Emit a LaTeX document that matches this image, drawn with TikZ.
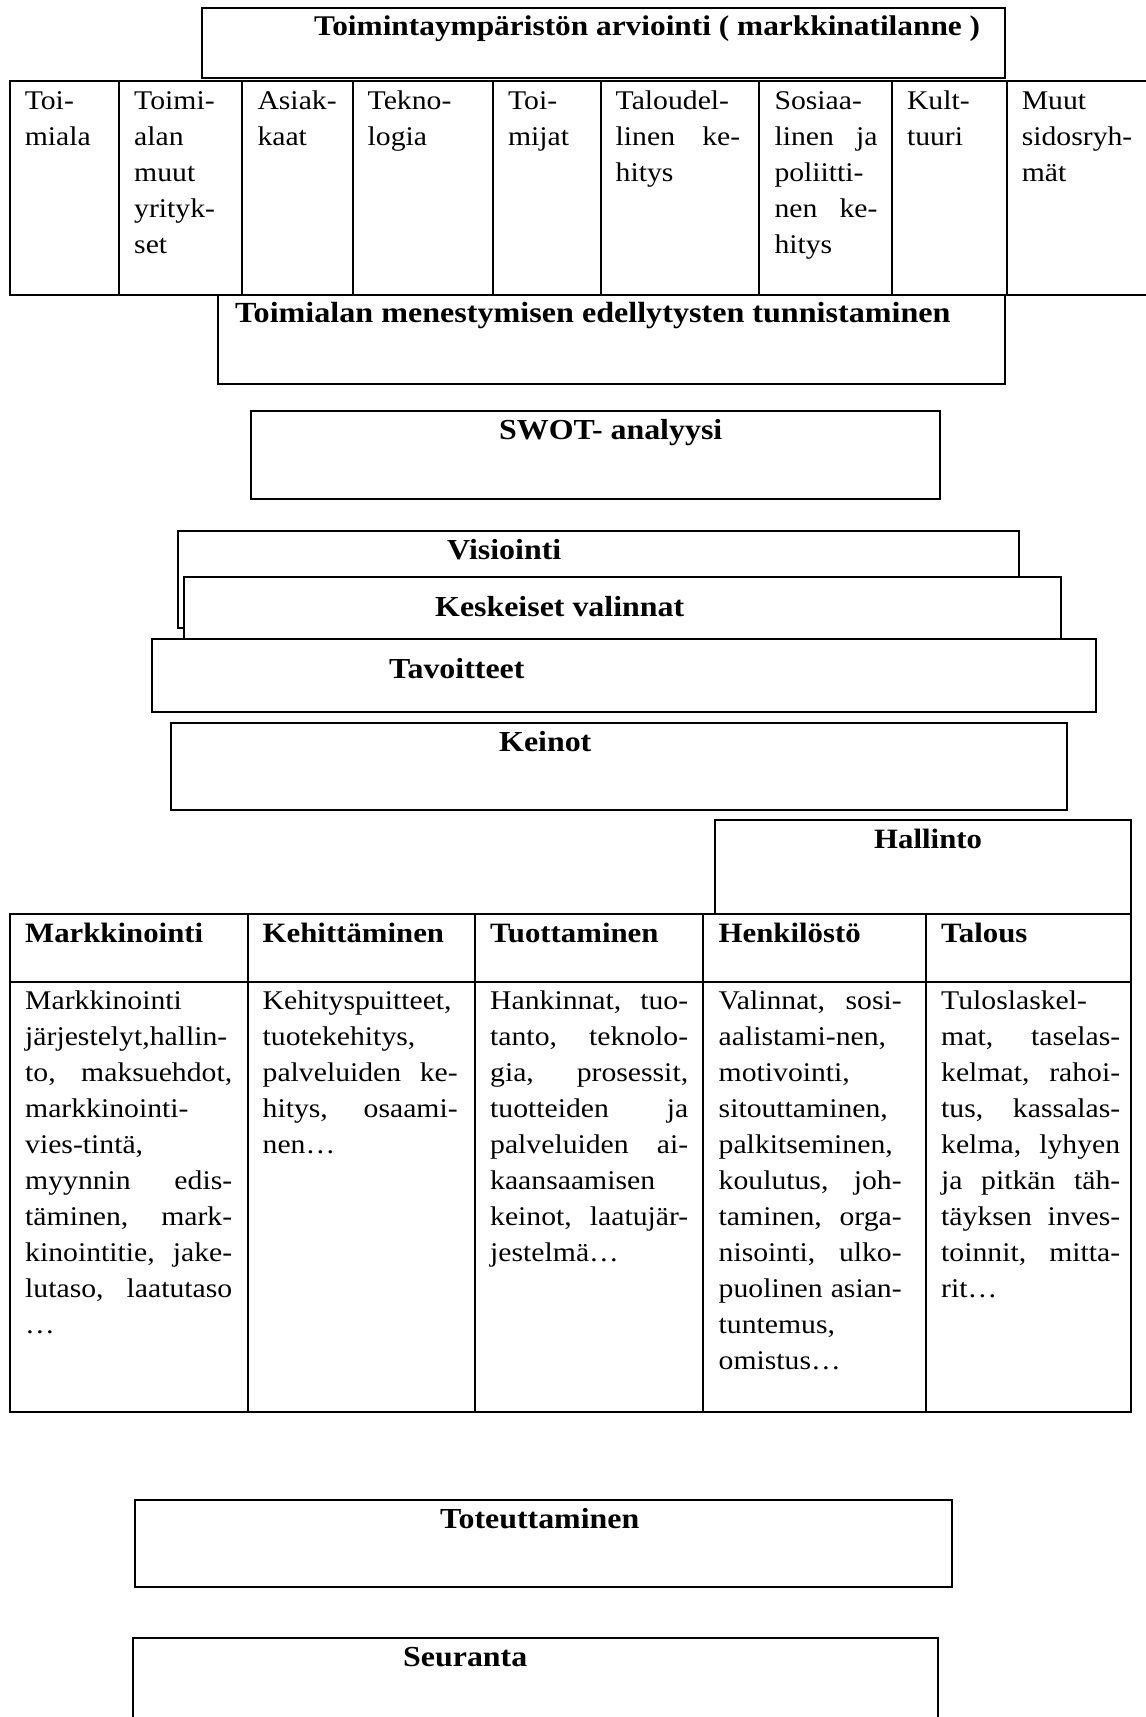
\documentclass[tikz,border=0pt]{standalone}
\usepackage{fontspec}
\setmainfont{Liberation Serif}[FakeStretch=1.1]
\newcommand\bodyf{\fontsize{27}{36}\selectfont}
\newcommand\headf{\fontsize{28}{34}\selectfont\bfseries}
\newcommand\bigheadf{\fontsize{29.2}{34}\selectfont\bfseries}
\newcommand\stackf{\fontsize{29}{34}\selectfont\bfseries}
\newcommand\J[1]{\makebox[\linewidth][s]{#1}}
\tikzset{
  frame/.style={draw=black, line width=2pt},
  whitebox/.style={frame, fill=white},
  title/.style={anchor=base west, inner sep=0pt, font=\headf},
  bigtitle/.style={anchor=base west, inner sep=0pt, font=\bigheadf},
  stacktitle/.style={anchor=base west, inner sep=0pt, font=\stackf},
  celltext/.style={anchor=base west, inner sep=0pt, font=\bodyf},
}
\begin{document}
\begin{tikzpicture}[x=1pt,y=-1pt]
\useasboundingbox (0,0) rectangle (1146,1717);
\fill[white] (0,0) rectangle (1146,1717);

% ---- top title box
\draw[frame] (202,7.5) rectangle (1004.6,78);
\node[anchor=base west, inner sep=0pt, font={\fontsize{28.5}{34}\selectfont\bfseries}] (toptitle) at (314,35) {Toimintaympäristön arviointi ( markkinatilanne )};

% ---- top table
\draw[frame] (1146,81) -- (9.6,81) -- (9.6,294.7) -- (1146,294.7);
\foreach \xx in {119,242.3,352.5,492.9,600.5,759.3,891.8,1006.6}
  \draw[frame] (\xx,81) -- (\xx,294.7);
\node[celltext] (ta) at (24.6,109) {\parbox[t]{85pt}{Toi-\\miala}};
\node[celltext] (tb) at (134,109) {\parbox[t]{98pt}{Toimi-\\alan\\muut\\yrityk-\\set}};
\node[celltext] (tc) at (257.3,109) {\parbox[t]{85pt}{Asiak-\\kaat}};
\node[celltext] (td) at (367.5,109) {\parbox[t]{110pt}{Tekno-\\logia}};
\node[celltext] (te) at (507.9,109) {\parbox[t]{85pt}{Toi-\\mijat}};
\node[celltext] (tf) at (615.5,109) {\parbox[t]{124.5pt}{Taloudel-\\\J{linen ke-}\\hitys}};
\node[celltext] (tg) at (774.3,109) {\parbox[t]{103pt}{Sosiaa-\\\J{linen ja}\\poliitti-\\\J{nen ke-}\\hitys}};
\node[celltext] (th) at (906.8,109) {\parbox[t]{90pt}{Kult-\\tuuri}};
\node[celltext] (ti) at (1021.6,109) {\parbox[t]{120pt}{Muut\\sidosryh-\\mät}};

% ---- success factors box
\draw[frame] (217.5,294.7) rectangle (1005.4,384);
\node[bigtitle] (menest) at (235,322) {Toimialan menestymisen edellytysten tunnistaminen};

% ---- SWOT
\draw[frame] (250.5,410.5) rectangle (940,499);
\node[stacktitle] (swot) at (499,439) {SWOT- analyysi};

% ---- stacked boxes
\draw[frame] (177.5,531) rectangle (1019,628);
\node[stacktitle] (visio) at (447,559) {Visiointi};
\draw[whitebox] (184,577) rectangle (1061,639);
\node[stacktitle] (kesk) at (435,616) {Keskeiset valinnat};
\draw[whitebox] (152,639) rectangle (1096,712);
\node[stacktitle] (tavo) at (389,678) {Tavoitteet};
\draw[frame] (171,723) rectangle (1067,810);
\node[stacktitle] (keino) at (499,751) {Keinot};

% ---- Hallinto
\draw[frame] (715,820) rectangle (1131,914);
\node[title] (hall) at (874,848) {Hallinto};

% ---- bottom table
\draw[frame] (9.6,914) rectangle (1131,1412);
\draw[frame] (9.6,982) -- (1131,982);
\foreach \xx in {247.6,474.6,703,926}
  \draw[frame] (\xx,914) -- (\xx,1412);
\node[title] (hmark) at (25,942) {Markkinointi};
\node[title] (hkeh) at (262.5,942) {Kehittäminen};
\node[title] (htuo) at (490,942) {Tuottaminen};
\node[title] (hhen) at (718.5,942) {Henkilöstö};
\node[title] (htal) at (941,942) {Talous};

\node[celltext] (bmark) at (25,1009) {\parbox[t]{207pt}{Markkinointi\\järjestelyt,hallin-\\\J{to, maksuehdot,}\\markkinointi-\\vies-tintä,\\\J{myynnin edis-}\\\J{täminen, mark-}\\\J{kinointitie, jake-}\\\J{lutaso, laatutaso}\\…}};
\node[celltext] (bkeh) at (262.5,1009) {\parbox[t]{195pt}{Kehityspuitteet,\\tuotekehitys,\\\J{palveluiden ke-}\\\J{hitys, osaami-}\\nen…}};
\node[celltext] (btuo) at (490,1009) {\parbox[t]{198pt}{\J{Hankinnat, tuo-}\\\J{tanto, teknolo-}\\\J{gia, prosessit,}\\\J{tuotteiden ja}\\\J{palveluiden ai-}\\kaansaamisen\\\J{keinot, laatujär-}\\jestelmä…}};
\node[celltext] (bhen) at (718.5,1009) {\parbox[t]{183pt}{\J{Valinnat, sosi-}\\aalistami-nen,\\motivointi,\\sitouttaminen,\\palkitseminen,\\\J{koulutus, joh-}\\\J{taminen, orga-}\\\J{nisointi, ulko-}\\\J{puolinen asian-}\\tuntemus,\\omistus…}};
\node[celltext] (btal) at (941,1009) {\parbox[t]{179pt}{Tuloslaskel-\\\J{mat, taselas-}\\\J{kelmat, rahoi-}\\\J{tus, kassalas-}\\\J{kelma, lyhyen}\\\J{ja pitkän täh-}\\\J{täyksen inves-}\\\J{toinnit, mitta-}\\rit…}};

% ---- bottom boxes
\draw[frame] (135,1500) rectangle (952,1587);
\node[stacktitle] (toteu) at (440,1528) {Toteuttaminen};
\draw[frame] (133,1717) -- (133,1638) -- (938,1638) -- (938,1717);
\node[stacktitle] (seur) at (403,1666) {Seuranta};
\end{tikzpicture}
\end{document}
